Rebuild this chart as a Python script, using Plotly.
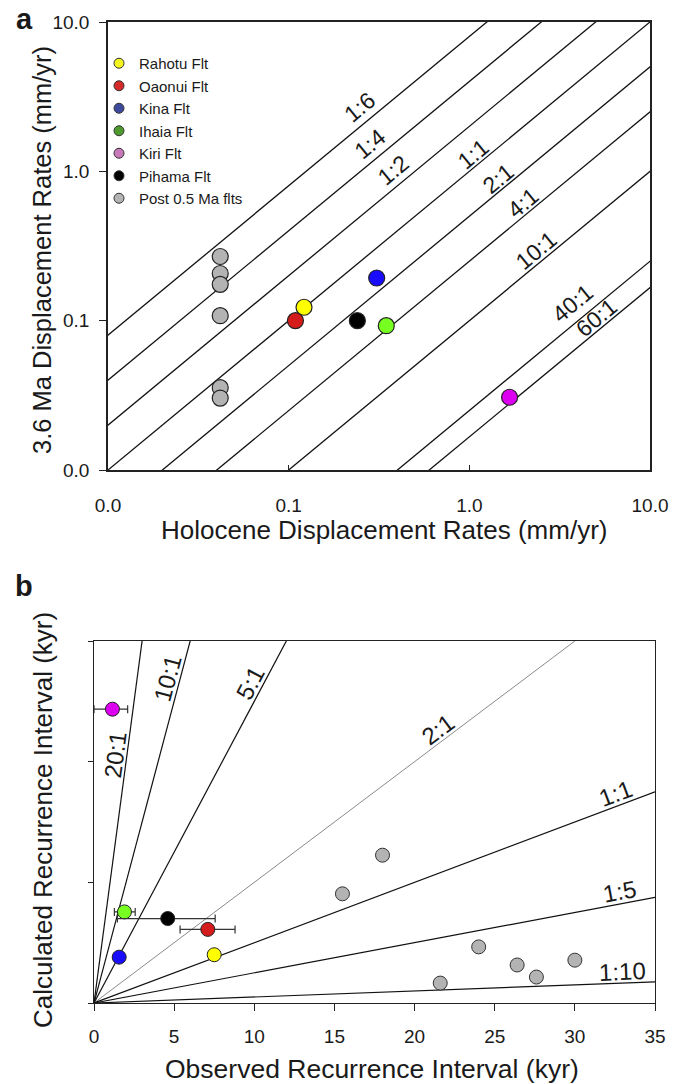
import math
import plotly.graph_objects as go

W, H = 680, 1084
FONT = "Liberation Sans, Arial, sans-serif"
INK = "#1a1a1a"

# ---------------- Panel a data ----------------
fault_names = ["Rahotu Flt", "Oaonui Flt", "Kina Flt", "Ihaia Flt", "Kiri Flt", "Pihama Flt"]
fault_colors = ["#ffff00", "#d41c1c", "#1a0dff", "#77ff22", "#dd00f0", "#000000"]
legend_colors = ["#f4f41e", "#d42a2a", "#3d4a9c", "#4f9a2e", "#c879b9", "#000000"]
post_name = "Post 0.5 Ma flts"
post_color = "#b3b3b3"

holocene_rate = [0.1216, 0.109, 0.307, 0.347, 1.67, 0.240]
ma36_rate = [0.123, 0.100, 0.193, 0.0926, 0.0307, 0.100]
post_holocene_rate = [0.0418, 0.0418, 0.0418, 0.0418, 0.0418, 0.0418]
post_ma36_rate = [0.269, 0.207, 0.175, 0.108, 0.0356, 0.0303]

a_ratio_labels = ["1:6", "1:4", "1:2", "1:1", "2:1", "4:1", "10:1", "40:1", "60:1"]
a_ratio_slopes = [8, 4, 2, 1, 1 / 2, 1 / 4, 1 / 10, 1 / 40, 1 / 60]
a_label_x = [0.28, 0.318, 0.428, 1.15, 1.57, 2.16, 2.59, 4.3, 5.5]
a_label_gap = [15, 15, 15, 11, 11, 11, 11, 17, 11]
a_tickvals = [0.01, 0.1, 1, 10]
a_ticktext = ["0.0", "0.1", "1.0", "10.0"]

# ---------------- Panel b data ----------------
observed_ri = [7.5, 7.1, 1.57, 1.9, 1.15, 4.6]
calculated_ri = [8.0, 12.2, 7.6, 15.1, 48.7, 14.0]
observed_err_plus = [0, 1.7, 0, 0.67, 0.95, 2.96]
observed_err_minus = [0, 1.73, 0, 0.63, 1.15, 3.14]
post_observed_ri = [15.5, 18.0, 24.0, 26.4, 27.6, 21.6, 30.0]
post_calculated_ri = [18.1, 24.5, 9.3, 6.3, 4.3, 3.3, 7.1]

b_ratio_labels = ["20:1", "10:1", "5:1", "2:1", "1:1", "1:5", "1:10"]
b_ratio_slopes = [20, 10, 5, 2, 1, 0.5, 0.1]
b_line_colors = ["#111", "#111", "#111", "#8a8a8a", "#111", "#111", "#111"]
b_label_x = [2.05, 5.34, 10.4, 21.9, 32.8, 32.9, 33.0]
b_xticks = [0, 5, 10, 15, 20, 25, 30, 35]
b_yticks = [0, 20, 40, 60]

# ---------------- geometry (pixels) ----------------
A_L, A_R, A_T, A_B = 108, 650, 22, 470
B_L, B_R, B_T, B_B = 94, 655, 641, 1003

fig = go.Figure()

# Panel a ratio lines
for s in a_ratio_slopes:
    xs = [1e-3, 1e2]
    fig.add_trace(go.Scatter(x=xs, y=[s * v for v in xs], mode="lines",
                             line=dict(color="#111", width=1.3),
                             showlegend=False, hoverinfo="skip", xaxis="x", yaxis="y"))

# Panel a points
fig.add_trace(go.Scatter(x=post_holocene_rate, y=post_ma36_rate, mode="markers",
                         marker=dict(size=16, color=post_color, line=dict(color="#222", width=1.2)),
                         showlegend=False, xaxis="x", yaxis="y"))
for i, n in enumerate(fault_names):
    fig.add_trace(go.Scatter(x=[holocene_rate[i]], y=[ma36_rate[i]], mode="markers",
                             marker=dict(size=16, color=fault_colors[i], line=dict(color="#222", width=1.2)),
                             showlegend=False, xaxis="x", yaxis="y"))

# legend entries
for n, c in zip(fault_names + [post_name], legend_colors + [post_color]):
    fig.add_trace(go.Scatter(x=[None], y=[None], mode="markers", name=n,
                             marker=dict(size=10, color=c, line=dict(color="#333", width=1)),
                             xaxis="x", yaxis="y"))

# Panel b ratio lines
for s, c in zip(b_ratio_slopes, b_line_colors):
    fig.add_trace(go.Scatter(x=[0, 35], y=[0, 35 * s], mode="lines",
                             line=dict(color=c, width=1.2 if c == "#111" else 1.0),
                             showlegend=False, hoverinfo="skip", xaxis="x2", yaxis="y2"))

fig.add_trace(go.Scatter(x=post_observed_ri, y=post_calculated_ri, mode="markers",
                         marker=dict(size=14, color=post_color, line=dict(color="#333", width=1)),
                         showlegend=False, xaxis="x2", yaxis="y2"))
for i, n in enumerate(fault_names):
    fig.add_trace(go.Scatter(x=[observed_ri[i]], y=[calculated_ri[i]], mode="markers",
                             marker=dict(size=14, color=fault_colors[i], line=dict(color="#222", width=1)),
                             error_x=dict(type="data", symmetric=False, array=[observed_err_plus[i]],
                                          arrayminus=[observed_err_minus[i]], color="#333",
                                          thickness=1.2, width=4,
                                          visible=observed_err_plus[i] > 0),
                             showlegend=False, xaxis="x2", yaxis="y2"))

annotations = []

# Panel a line labels
thA = math.degrees(math.atan(((A_B - A_T) / 3) / ((A_R - A_L) / 3)))
for lab, s, xv, d in zip(a_ratio_labels, a_ratio_slopes, a_label_x, a_label_gap):
    r = math.radians(thA)
    annotations.append(dict(x=math.log10(xv), y=math.log10(s * xv), xref="x", yref="y",
                            text=lab, showarrow=False, textangle=-thA,
                            xanchor="center", yanchor="middle",
                            xshift=-d * math.sin(r), yshift=d * math.cos(r),
                            font=dict(family=FONT, size=23, color=INK)))

# Panel b line labels
ppx = (B_R - B_L) / 35
ppy = (B_B - B_T) / 60
dB = 12
for lab, s, xv in zip(b_ratio_labels, b_ratio_slopes, b_label_x):
    th = math.degrees(math.atan(s * ppy / ppx))
    r = math.radians(th)
    annotations.append(dict(x=xv, y=s * xv, xref="x2", yref="y2",
                            text=lab, showarrow=False, textangle=-th,
                            xanchor="center", yanchor="middle",
                            xshift=-dB * math.sin(r), yshift=dB * math.cos(r),
                            font=dict(family=FONT, size=24, color=INK)))

def px(xp):
    return xp / W

def py(yp):
    return 1 - yp / H

def paper_text(xp, yp, text, size, angle=0):
    return dict(x=px(xp), y=py(yp), xref="paper", yref="paper", text=text,
                showarrow=False, textangle=angle, xanchor="center", yanchor="middle",
                font=dict(family=FONT, size=size, color=INK))

# titles and panel letters
annotations += [
    paper_text(24, 19, "<b>a</b>", 29),
    paper_text(24, 586, "<b>b</b>", 29),
    paper_text(384, 530, "Holocene Displacement Rates (mm/yr)", 26),
    paper_text(42, 250, "3.6 Ma Displacement Rates (mm/yr)", 25.5, -90),
    paper_text(372, 1069, "Observed Recurrence Interval (kyr)", 26.5),
    paper_text(43, 820, "Calculated Recurrence Interval (kyr)", 26, -90),
]

axis_common = dict(showgrid=False, zeroline=False, showline=True, mirror=True,
                   linecolor="#222", tickcolor="#222", automargin=False)

fig.update_layout(
    width=W, height=H, autosize=False,
    margin=dict(l=0, r=0, t=0, b=0, pad=0, autoexpand=False),
    paper_bgcolor="white", plot_bgcolor="white",
    font=dict(family=FONT, color=INK),
    showlegend=True,
    legend=dict(x=px(99), y=py(47), xanchor="left", yanchor="top",
                bgcolor="rgba(0,0,0,0)", font=dict(family=FONT, size=15, color=INK),
                tracegroupgap=0),
    xaxis=dict(domain=[px(A_L), px(A_R)], anchor="y", type="log", range=[-2, 1],
               tickvals=a_tickvals, ticktext=a_ticktext, ticks="inside", ticklen=5,
               ticklabelstandoff=17, linewidth=1.5,
               tickfont=dict(family=FONT, size=19, color=INK), **axis_common),
    yaxis=dict(domain=[py(A_B), py(A_T)], anchor="x", type="log", range=[-2, 1],
               tickvals=a_tickvals, ticktext=a_ticktext, ticks="outside", ticklen=7,
               ticklabelstandoff=6, linewidth=1.5,
               tickfont=dict(family=FONT, size=19, color=INK), **axis_common),
    xaxis2=dict(domain=[px(B_L), px(B_R)], anchor="y2", range=[0, 35],
                tickvals=b_xticks, ticks="outside", ticklen=7, ticklabelstandoff=9,
                linewidth=1.3, tickfont=dict(family=FONT, size=19, color=INK), **axis_common),
    yaxis2=dict(domain=[py(B_B), py(B_T)], anchor="x2", range=[0, 60],
                tickvals=b_yticks, ticks="outside", ticklen=5, showticklabels=False,
                linewidth=1.3, **axis_common),
    annotations=annotations,
)

fig.write_html("out.html")
